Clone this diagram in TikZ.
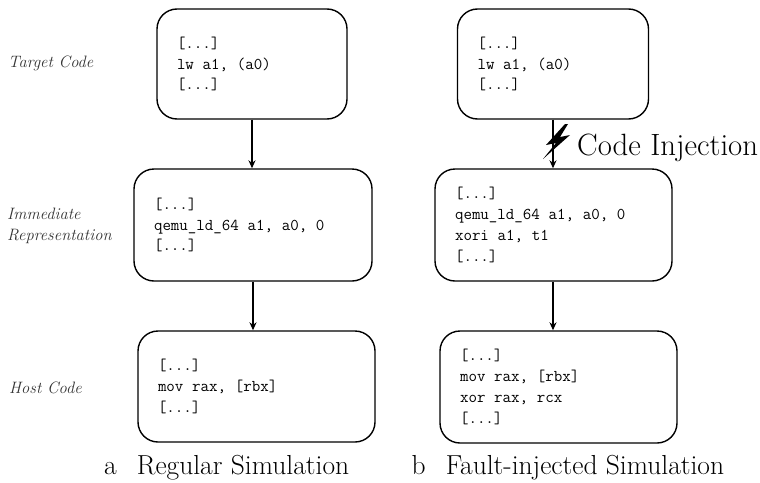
\documentclass[tikz,border=0pt]{standalone}
\usetikzlibrary{arrows.meta}
\newcommand{\mycodefont}{\fontsize{16.5}{20.7}\selectfont\ttfamily}
\newcommand{\csp}{\hspace*{0.525em}}
\begin{document}
\begin{tikzpicture}[x=1pt,y=-1pt,
  codebox/.style={draw, line width=1.4pt, rounded corners=20pt, inner xsep=20pt, inner ysep=0pt,
    align=left, font=\mycodefont},
  sidelabel/.style={anchor=west, align=left, inner sep=0pt, text=black!80,
    font=\fontsize{16.5}{21}\selectfont\itshape},
  caption/.style={anchor=base west, inner sep=0pt, font=\fontsize{27.5}{32}\selectfont},
  flow/.style={line width=1.3pt, -{Stealth[length=8pt,width=7pt]}}]
\useasboundingbox (0,0) rectangle (760,482);
% left column
\node[codebox, minimum width=190pt, minimum height=110pt, text width=150pt] (L1) at (252,64)
  {{[...]}\\{lw\csp a1,\csp (a0)}\\{[...]}};
\node[codebox, minimum width=238pt, minimum height=112pt, text width=198pt] (L2) at (253,225)
  {{[...]}\\{qemu\_ld\_64\csp a1,\csp a0,\csp 0}\\{[...]}};
\node[codebox, minimum width=237pt, minimum height=111pt, text width=197pt] (L3) at (256.5,386.5)
  {{[...]}\\{mov\csp rax,\csp [rbx]}\\{[...]}};
% right column
\node[codebox, minimum width=191pt, minimum height=110pt, text width=151pt] (R1) at (553,64)
  {{[...]}\\{lw\csp a1,\csp (a0)}\\{[...]}};
\node[codebox, minimum width=237pt, minimum height=112pt, text width=197pt] (R2) at (553.5,225)
  {{[...]}\\{qemu\_ld\_64\csp a1,\csp a0,\csp 0}\\{xori\csp a1,\csp t1}\\{[...]}};
\node[codebox, minimum width=237pt, minimum height=112pt, text width=197pt] (R3) at (558.5,387)
  {{[...]}\\{mov\csp rax,\csp [rbx]}\\{xor\csp rax,\csp rcx}\\{[...]}};
% connectors
\draw[flow] (L1.south) -- (L1.south |- L2.north);
\draw[flow] (L2.south) -- (L2.south |- L3.north);
\draw[flow] (R1.south) -- (R1.south |- R2.north);
\draw[flow] (R2.south -| R1.south) -- (R1.south |- R3.north);
% lightning bolt
\fill[black] (565,124) -- (546,145) -- (556,143) -- (543,159) -- (570,135) -- (560,137) -- (568,124) -- cycle;
\node[anchor=base west, inner sep=0pt, font=\fontsize{30.8}{36}\selectfont] (inj) at (577,155) {Code Injection};
% side labels
\node[sidelabel] (t1) at (8,63) {Target Code};
\node[sidelabel] (t2) at (7,226) {Immediate\\Representation};
\node[sidelabel] (t3) at (9,388) {Host Code};
% captions
\node[caption] (ca) at (104,474) {a\hspace{20pt}Regular Simulation};
\node[caption] (cb) at (411.5,474) {b\hspace{20pt}Fault-injected Simulation};
\end{tikzpicture}
\end{document}
